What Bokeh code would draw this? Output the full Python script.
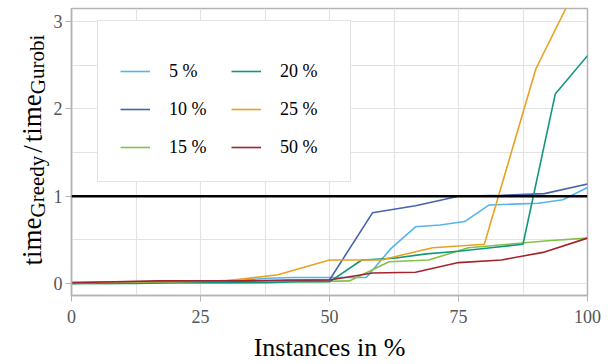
from bokeh.plotting import figure
from bokeh.models import FixedTicker, Span, Legend, LegendItem, Label, Range1d
from bokeh.layouts import row
from bokeh.embed import file_html
from bokeh.resources import INLINE

# ---- data ----
x_5 = [0, 4.76, 9.52, 14.29, 19.05, 23.81, 28.57, 33.33, 38.10, 42.86, 47.62,
       52.38, 57.14, 61.90, 66.67, 71.43, 76.19, 80.95, 85.71, 90.48, 95.24, 100]
y_5 = [0.00, 0.01, 0.01, 0.02, 0.02, 0.03, 0.03, 0.04, 0.06, 0.07, 0.07,
       0.07, 0.07, 0.40, 0.65, 0.67, 0.71, 0.90, 0.91, 0.92, 0.96, 1.10]

x_10 = [0, 8.33, 16.67, 25, 33.33, 41.67, 50, 58.33, 66.67, 75, 83.33, 91.67, 100]
y_10 = [0.00, 0.01, 0.01, 0.02, 0.02, 0.03, 0.04, 0.81, 0.89, 1.00, 1.01, 1.03, 1.14]

x_15 = [0, 7.69, 15.38, 23.08, 30.77, 38.46, 46.15, 53.85, 61.54, 69.23, 76.92, 84.62, 92.31, 100]
y_15 = [0.00, 0.00, 0.01, 0.01, 0.01, 0.02, 0.02, 0.03, 0.25, 0.27, 0.41, 0.45, 0.49, 0.52]

x_20 = [0, 6.25, 12.5, 18.75, 25, 31.25, 37.5, 43.75, 50, 56.25, 62.5, 68.75, 75, 81.25, 87.5, 93.75, 100]
y_20 = [0.00, 0.00, 0.00, 0.01, 0.01, 0.01, 0.01, 0.02, 0.02, 0.27, 0.29, 0.34, 0.37, 0.41, 0.45, 2.17, 2.61]

x_25 = [0, 10, 20, 30, 40, 50, 60, 70, 80, 90, 100]
y_25 = [0.01, 0.02, 0.02, 0.03, 0.10, 0.27, 0.27, 0.41, 0.45, 2.46, 3.65]

x_50 = [0, 8.33, 16.67, 25, 33.33, 41.67, 50, 58.33, 66.67, 75, 83.33, 91.67, 100]
y_50 = [0.01, 0.02, 0.03, 0.03, 0.03, 0.04, 0.04, 0.12, 0.13, 0.24, 0.27, 0.36, 0.52]

series_labels = ["5 %", "10 %", "15 %", "20 %", "25 %", "50 %"]
series_colors = ["#56B4E9", "#4563AE", "#86C145", "#12977F", "#E8A221", "#A5232E"]

x_ticks = [0, 25, 50, 75, 100]
x_minor = [12.5, 37.5, 62.5, 87.5]
y_ticks = [0, 1, 2, 3]
y_minor = [0.5, 1.5, 2.5]
ref_level = 1

y_label_parts = ["time", "Greedy", "/", "time", "Gurobi"]

QFONT = "'Liberation Serif', serif"

# ---- main plot ----
p = figure(width=562, height=364, output_backend="svg", toolbar_location=None,
           x_range=Range1d(0, 100), y_range=Range1d(-0.137, 3.15),
           min_border_left=19, min_border_right=25, min_border_top=8, min_border_bottom=69)
p.background_fill_color = "white"
p.border_fill_color = "white"
p.outline_line_color = "#b3b3b3"
p.outline_line_width = 1.5

xs = [x_5, x_10, x_15, x_20, x_25, x_50]
ys = [y_5, y_10, y_15, y_20, y_25, y_50]
renderers = []
for xv, yv, c in zip(xs, ys, series_colors):
    renderers.append(p.line(xv, yv, line_color=c, line_width=1.6))

p.add_layout(Span(location=ref_level, dimension="width", line_color="black", line_width=2.5))

for ax, t, m in ((p.xaxis[0], x_ticks, x_minor), (p.yaxis[0], y_ticks, y_minor)):
    ax.ticker = FixedTicker(ticks=t, minor_ticks=m)
    ax.axis_line_color = "#b3b3b3"
    ax.axis_line_width = 1.5
    ax.major_tick_line_color = "#b3b3b3"
    ax.major_tick_out = 6
    ax.major_tick_in = 0
    ax.minor_tick_line_color = None
    ax.major_label_text_font = QFONT
    ax.major_label_text_font_size = "18px"
    ax.major_label_text_color = "#555555"
    ax.major_label_standoff = 8
p.yaxis.major_label_standoff = 3

p.xaxis.axis_label = "Instances in %"
p.xaxis.axis_label_text_font = QFONT
p.xaxis.axis_label_text_font_size = "26px"
p.xaxis.axis_label_text_font_style = "normal"
p.xaxis.axis_label_text_color = "black"
p.xaxis.axis_label_standoff = 7

for g in (p.xgrid[0], p.ygrid[0]):
    g.grid_line_color = "#e3e3e3"
    g.grid_line_width = 1.2
    g.minor_grid_line_color = "#e3e3e3"
    g.minor_grid_line_width = 1.2

legend = Legend(items=[LegendItem(label=l, renderers=[r]) for l, r in zip(series_labels, renderers)],
                location=(26, 113), ncols=2, orientation="vertical")
legend.title = " "
legend.title_text_font_size = "10px"
legend.title_standoff = 5
legend.label_text_font = QFONT
legend.label_text_font_size = "18px"
legend.label_text_color = "black"
legend.glyph_width = 30
legend.glyph_height = 24
legend.label_height = 24
legend.label_width = 48
legend.label_standoff = 19
legend.spacing = 14
legend.padding = 22
legend.margin = 0
legend.border_line_color = "#c8c8c8"
legend.border_line_width = 1
legend.background_fill_color = "white"
legend.background_fill_alpha = 1.0
p.add_layout(legend, "center")

# ---- left strip holding the rotated y-axis label with subscripts ----
# (its frame is aligned with the main frame: y measured from the frame bottom)
lab = figure(width=50, height=364, output_backend="svg", toolbar_location=None,
             x_range=Range1d(0, 1), y_range=Range1d(0, 1),
             x_axis_type=None, y_axis_type=None,
             min_border_left=0, min_border_right=0, min_border_top=8, min_border_bottom=69)
lab.outline_line_color = None
lab.background_fill_color = "white"
lab.border_fill_color = "white"

main_size, sub_size = 27, 21
sizes = [main_size, sub_size, main_size, main_size, sub_size]
shifts = [0, 5, 0, 0, 5]
advance = {"time": 1.778, "Greedy": 2.943, "/": 0.5, "Gurobi": 2.833}
pos = 30.0
for txt, sz, sh in zip(y_label_parts, sizes, shifts):
    off = 3 if txt == "/" else 0
    lab.add_layout(Label(x=32 + sh, y=pos + off, x_units="screen", y_units="screen", text=txt,
                         angle=1.5708, text_font=QFONT, text_font_size=f"{sz}px",
                         text_align="left", text_baseline="alphabetic", text_color="black"))
    pos += advance[txt] * sz

layout = row(lab, p)
open("out.html", "w").write(file_html(layout, INLINE))
